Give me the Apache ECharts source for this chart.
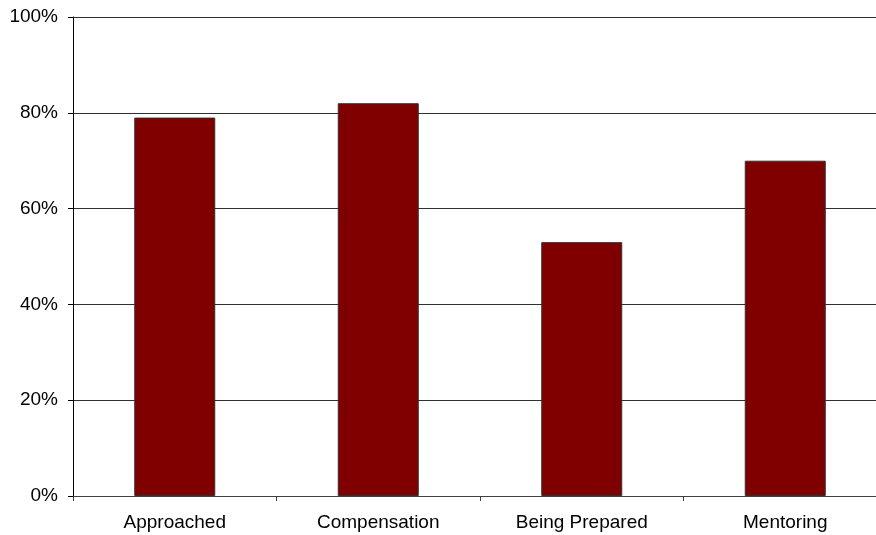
<!DOCTYPE html>
<html>
<head>
<meta charset="utf-8">
<script src="https://cdn.jsdelivr.net/npm/echarts@6/dist/echarts.min.js"></script>
<style>
  html, body { margin: 0; padding: 0; background: #ffffff; overflow: hidden; }
  /* the plot runs slightly past the right edge of the window */
  #chart { width: 887px; height: 535px; }
</style>
</head>
<body>
<div id="chart"></div>
<script>
// Share of respondents per topic
const categories = ['Approached', 'Compensation', 'Being Prepared', 'Mentoring'];
const shares = [79, 82, 53, 70];
const yTicks = [0, 20, 40, 60, 80, 100];

const chart = echarts.init(document.getElementById('chart'), null, { renderer: 'canvas' });

chart.setOption({
  animation: false,
  backgroundColor: '#ffffff',
  textStyle: { fontFamily: '"Liberation Sans", Arial, sans-serif' },
  grid: { left: 73, top: 17, bottom: 39, right: 0, containLabel: false },
  xAxis: {
    type: 'category',
    data: categories,
    axisLine: { show: true, lineStyle: { color: '#404040', width: 1 } },
    axisTick: { show: true, alignWithLabel: false, length: 5, lineStyle: { color: '#404040' } },
    axisLabel: { color: '#000000', fontSize: 19, margin: 17 },
    splitLine: { show: false }
  },
  yAxis: {
    type: 'value',
    min: yTicks[0],
    max: yTicks[yTicks.length - 1],
    interval: 20,
    axisLine: { show: true, lineStyle: { color: '#000000', width: 1 } },
    axisTick: { show: true, length: 5, lineStyle: { color: '#000000' } },
    axisLabel: { color: '#000000', fontSize: 19, margin: 15, formatter: '{value}%' },
    splitLine: { show: true, lineStyle: { color: '#303030', width: 1 } }
  },
  series: [{
    type: 'bar',
    data: shares,
    barWidth: 81,
    itemStyle: { color: '#800000', borderColor: '#303030', borderWidth: 1 }
  }]
});
</script>
</body>
</html>
